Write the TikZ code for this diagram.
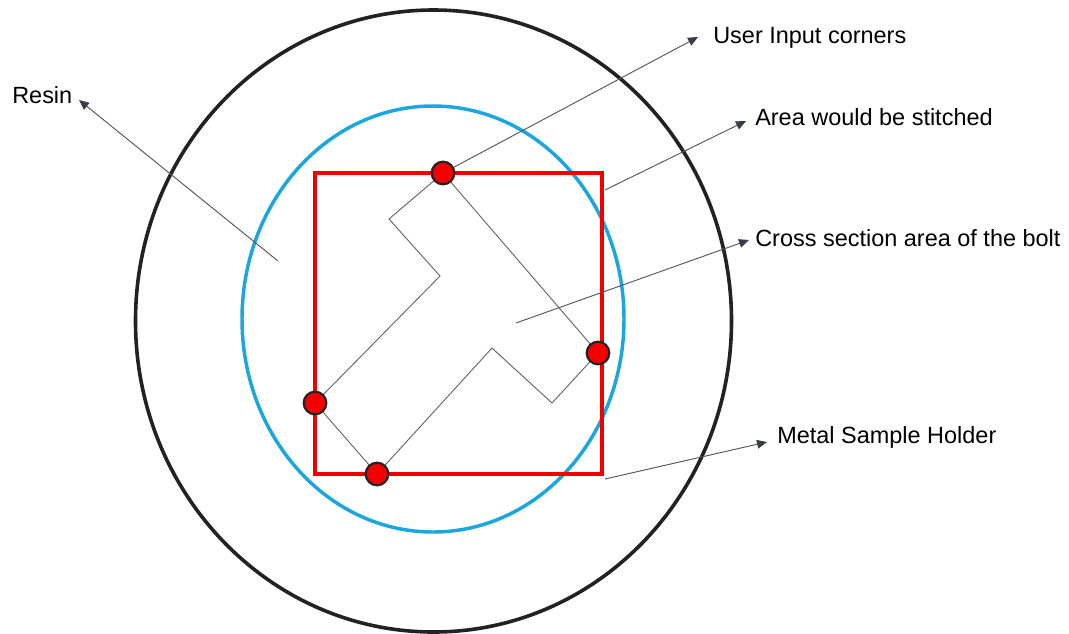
\documentclass[tikz,border=0pt]{standalone}
\usepackage{fontspec}
\setmainfont{Liberation Sans}
\usetikzlibrary{arrows.meta}
\definecolor{holder}{HTML}{222222}
\definecolor{resinblue}{HTML}{1AA7E0}
\definecolor{stitchred}{HTML}{F20000}
\definecolor{leadgray}{HTML}{555555}
\definecolor{tipgray}{HTML}{3A3A48}
\definecolor{boltgray}{HTML}{666666}
\tikzset{
  lbl/.style={anchor=base west, inner sep=0pt, text=black, font=\fontsize{17.6}{21}\selectfont},
  leader/.style={draw=leadgray, line width=0.7pt, -{Triangle[length=7.5pt,width=6.5pt,fill=tipgray,color=tipgray]}},
  corner/.style={circle, fill=stitchred, draw=holder, line width=1.6pt, minimum size=17pt, inner sep=0pt},
  boltline/.style={draw=boltgray, line width=0.7pt, line join=miter},
}
\begin{document}
\begin{tikzpicture}[x=0.75pt, y=-0.75pt]
\useasboundingbox (0,0) rectangle (1069,633);
% metal sample holder
\draw[holder, line width=2.7pt] (433.5,321) ellipse [x radius=223.5pt, y radius=233.25pt];
% resin / cross-section boundary
\draw[resinblue, line width=2.6pt] (433,319) ellipse [x radius=143.25pt, y radius=159.75pt];
% bolt outline
\coordinate (b1) at (443,173);
\coordinate (b2) at (389,219);
\coordinate (b3) at (440,276);
\coordinate (b4) at (315,403);
\coordinate (b5) at (377,474);
\coordinate (b6) at (492,348);
\coordinate (b7) at (552,403);
\coordinate (b8) at (598,353);
\draw[boltline] (b1) -- (b2) -- (b3) -- (b4) -- (b5) -- (b6) -- (b7) -- (b8) -- cycle;
% stitched area
\draw[stitchred, line width=2.6pt] (315,173) rectangle (602,474);
% corners
\node[corner] (c1) at (b1) {};
\node[corner] (c2) at (b8) {};
\node[corner] (c3) at (b4) {};
\node[corner] (c4) at (b5) {};
% labels
\node[lbl] (resin) at (12,103) {Resin};
\node[lbl] (user) at (713,43) {User Input corners};
\node[lbl] (area) at (755,125) {Area would be stitched};
\node[lbl] (cross) at (755,246) {Cross section area of the bolt};
\node[lbl] (metal) at (777,443) {Metal Sample Holder};
% leader anchors
\coordinate (sResin) at (278,261);
\coordinate (tResin) at (79,100);
\coordinate (tUser) at (698,37);
\coordinate (sArea) at (605,190);
\coordinate (tArea) at (746,121);
\coordinate (sCross) at (516,323);
\coordinate (tCross) at (749,240);
\coordinate (sMetal) at (605,479);
\coordinate (tMetal) at (767,442);
\draw[leader] (sResin) -- (tResin);
\draw[leader] (c1) -- (tUser);
\draw[leader] (sArea) -- (tArea);
\draw[leader] (sCross) -- (tCross);
\draw[leader] (sMetal) -- (tMetal);
\end{tikzpicture}
\end{document}
